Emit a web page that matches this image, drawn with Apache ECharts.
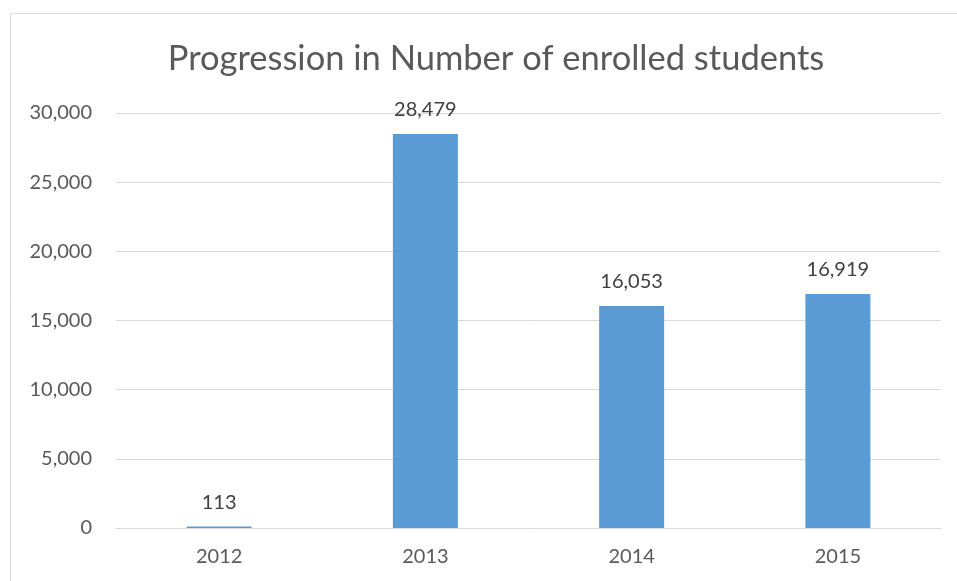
<!DOCTYPE html>
<html><head><meta charset="utf-8">
<script src="https://cdn.jsdelivr.net/npm/echarts@6/dist/echarts.min.js"></script>
<style>html,body{margin:0;padding:0;background:#fff}#c{width:957px;height:581px}</style>
</head><body><div id="c"></div>
<script>
const categories = ['2012', '2013', '2014', '2015'];
const students = [113, 28479, 16053, 16919];
const yTicks = { min: 0, max: 30000, interval: 5000 };
const titleText = 'Progression in Number of enrolled students';

const chart = echarts.init(document.getElementById('c'));
const font = 'Lato, "Open Sans", sans-serif';
chart.setOption({
  animation: false,
  graphic: [{ type: 'rect', shape: { x: 10.5, y: 13.5, width: 1000, height: 1000 }, style: { fill: 'none', stroke: '#d9d9d9', lineWidth: 1 }, silent: true }],
  title: { text: titleText, left: 491, top: 36, textAlign: 'center',
    textStyle: { fontFamily: font, fontSize: 34.5, fontWeight: 'normal', color: '#595959' } },
  grid: { left: 116, right: 16, top: 113, bottom: 53 },
  xAxis: { type: 'category', data: categories,
    axisLine: { lineStyle: { color: '#d9d9d9' } }, axisTick: { show: false },
    axisLabel: { fontFamily: font, fontSize: 20, color: '#595959', margin: 19 } },
  yAxis: { type: 'value', min: yTicks.min, max: yTicks.max, interval: yTicks.interval,
    axisLine: { show: false }, axisTick: { show: false },
    splitLine: { lineStyle: { color: '#d9d9d9' } },
    axisLabel: { fontFamily: font, fontSize: 20, color: '#595959', margin: 24,
      formatter: v => v.toLocaleString('en-US') } },
  series: [{ type: 'bar', data: students, barWidth: 65,
    itemStyle: { color: '#5b9bd5' },
    label: { show: true, position: 'top', distance: 14, fontFamily: font, fontSize: 20, color: '#404040',
      formatter: p => p.value.toLocaleString('en-US') } }]
});
</script></body></html>
